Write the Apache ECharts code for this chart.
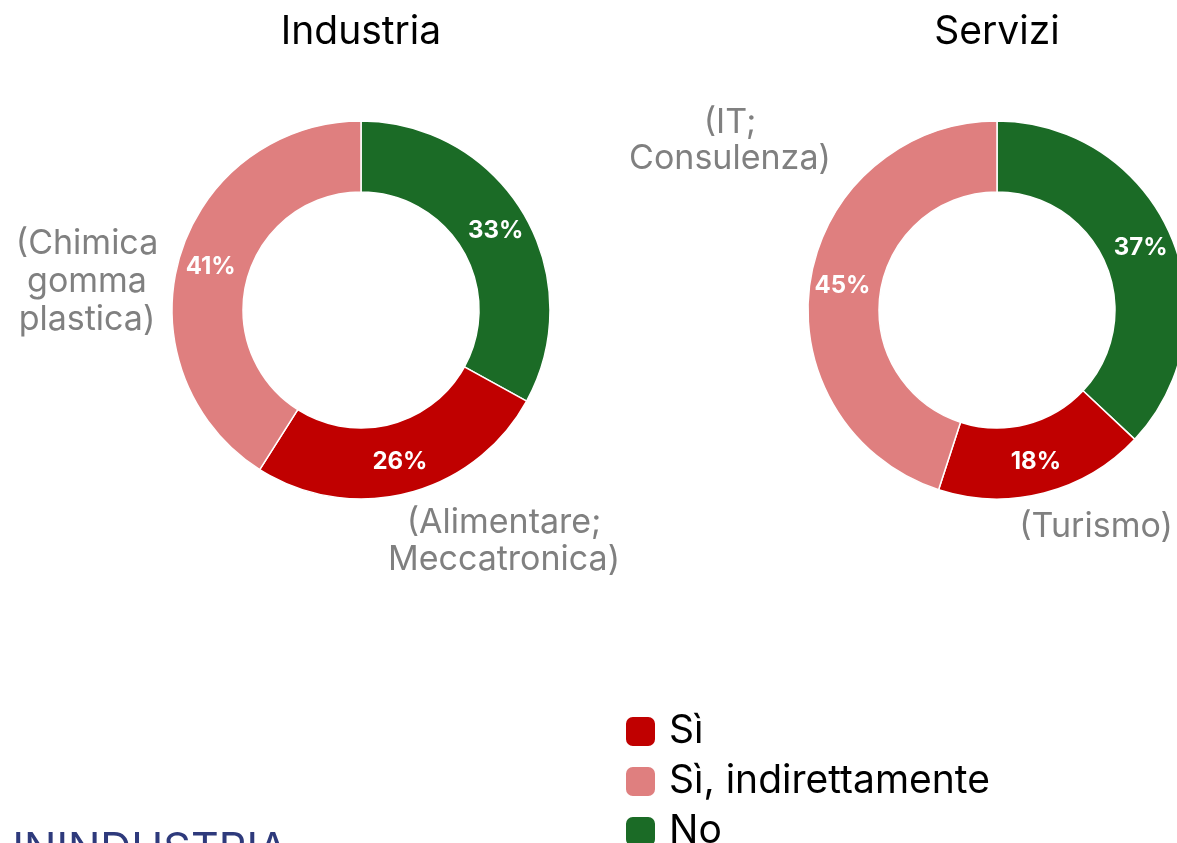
<!DOCTYPE html>
<html>
<head>
<meta charset="utf-8">
<script src="https://cdn.jsdelivr.net/npm/echarts@6/dist/echarts.min.js"></script>
<style>
  html, body { margin: 0; padding: 0; background: #fff; }
  #main { width: 1177px; height: 843px; }
</style>
</head>
<body>
<div id="main"></div>
<script>
// dati
var categorie = ['No', 'Sì', 'Sì, indirettamente'];
var ordineLegenda = ['Sì', 'Sì, indirettamente', 'No'];
var colori = ['#1B6B26', '#C00000', '#DF7F7F'];
var industria = [33, 26, 41];
var servizi = [37, 18, 45];
var titoli = ['Industria', 'Servizi'];

var font = 'Inter, "Noto Sans", sans-serif';

function serie(nome, valori, cx) {
    return {
        name: nome,
        type: 'pie',
        center: [cx, 310],
        radius: [118, 189],
        startAngle: 90,
        clockwise: true,
        avoidLabelOverlap: false,
        itemStyle: { borderColor: '#fff', borderWidth: 1.5 },
        label: {
            position: 'inside',
            formatter: '{c}%',
            color: '#fff',
            fontWeight: 'bold',
            fontSize: 24,
            fontFamily: font
        },
        labelLine: { show: false },
        emphasis: { disabled: true },
        data: categorie.map(function (c, i) {
            return { name: c, value: valori[i], itemStyle: { color: colori[i] } };
        })
    };
}

function nota(testo, x, y, lh) {
    return {
        type: 'text',
        x: x,
        y: y,
        style: {
            text: testo,
            fill: '#808080',
            font: '34px ' + font,
            textAlign: 'center',
            textVerticalAlign: 'top',
            lineHeight: lh
        }
    };
}

// una legenda per voce, così non va a capo
var legende = ordineLegenda.map(function (nome, i) {
    return {
        orient: 'vertical',
        left: 624,
        top: 712 + i * 50,
        padding: 0,
        data: [nome],
        icon: 'roundRect',
        itemWidth: 31,
        itemHeight: 31,
        textStyle: { fontSize: 39, color: '#000', fontFamily: font, padding: [0, 0, 0, 8] }
    };
});

var myChart = echarts.init(document.getElementById('main'));
myChart.setOption({
    animation: false,
    title: [
        { text: titoli[0], left: 356, top: 8, textAlign: 'center',
          textStyle: { fontSize: 39, fontWeight: 'normal', color: '#000', fontFamily: font } },
        { text: titoli[1], left: 992, top: 8, textAlign: 'center',
          textStyle: { fontSize: 39, fontWeight: 'normal', color: '#000', fontFamily: font } }
    ],
    legend: legende,
    series: [
        serie(titoli[0], industria, 361),
        serie(titoli[1], servizi, 997)
    ],
    graphic: [
        nota('(Chimica\ngomma\nplastica)', 87, 225, 38),
        nota('(IT;\nConsulenza)', 730, 105, 36),
        nota('(Alimentare;\nMeccatronica)', 504, 504, 37),
        nota('(Turismo)', 1096, 508, 37),
        {
            type: 'text',
            x: -8,
            y: 829,
            style: {
                text: 'UNINDUSTRIA',
                fill: '#2E3A7C',
                font: '43px ' + font,
                textVerticalAlign: 'top'
            }
        }
    ]
});
</script>
</body>
</html>
